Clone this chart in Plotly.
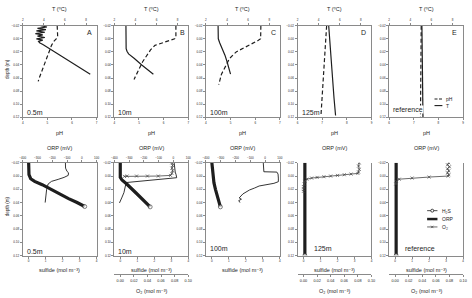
import plotly.graph_objects as go

# ---------------- data ----------------
panel_letters = ["A", "B", "C", "D", "E"]
site_labels = ["0.5m", "10m", "100m", "125m", "reference"]
depth_ticks = [-0.02, 0.0, 0.02, 0.04, 0.06, 0.08, 0.10, 0.12]
T_ticks = [2, 4, 6, 8]
pH_ticks_shallow = [4, 5, 6, 7]
pH_ticks_deep = [6, 7, 8, 9]
ORP_ticks = [-400, -300, -200, -100, 0, 100]
sulfide_ticks = [0, 1, 2, 3, 4]
O2_ticks = [0.0, 0.02, 0.04, 0.06, 0.08, 0.10]

# top row: temperature (solid) and pH (dashed)
A_T_depth = [-0.02, -0.018, -0.016, -0.014, -0.012, -0.010, -0.008, -0.006, -0.004, -0.002,
             0.000, 0.002, 0.004, 0.006, 0.009, 0.015, 0.025, 0.035, 0.045, 0.054]
A_T_val = [3.7, 4.3, 3.4, 4.2, 3.3, 4.1, 3.2, 3.9, 3.4, 4.1,
           3.3, 3.9, 3.5, 3.6, 3.95, 4.55, 5.55, 6.5, 7.5, 8.4]
A_pH_depth = [-0.02, -0.01, -0.004, 0.0, 0.004, 0.01, 0.02, 0.03, 0.04, 0.05, 0.06, 0.065]
A_pH_val = [5.4, 5.42, 5.42, 5.36, 5.26, 5.17, 5.07, 4.95, 4.84, 4.75, 4.67, 4.63]

B_T_depth = [-0.02, 0.0, 0.015, 0.019, 0.023, 0.03, 0.04, 0.054]
B_T_val = [3.1, 3.1, 3.12, 3.2, 3.35, 3.9, 4.6, 5.7]
B_pH_depth = [-0.02, -0.01, -0.002, 0.0, 0.005, 0.01, 0.017, 0.025, 0.035, 0.045, 0.053, 0.062]
B_pH_val = [6.5, 6.5, 6.5, 6.45, 6.0, 5.65, 5.47, 5.32, 5.15, 5.02, 4.9, 4.8]

C_T_depth = [-0.02, -0.01, 0.0, 0.006, 0.012, 0.018, 0.025, 0.035, 0.045, 0.054]
C_T_val = [3.15, 3.15, 3.17, 3.3, 3.47, 3.65, 3.8, 4.0, 4.15, 4.33]
C_pH_depth = [-0.02, -0.01, 0.0, 0.003, 0.01, 0.015, 0.02, 0.03, 0.041, 0.054, 0.07]
C_pH_val = [6.23, 6.23, 6.22, 6.1, 5.76, 5.5, 5.23, 4.96, 4.8, 4.63, 4.52]

D_T_depth = [-0.02, 0.0, 0.03, 0.06, 0.09, 0.117]
D_T_val = [4.95, 5.03, 5.16, 5.3, 5.45, 5.6]
D_pH_depth = [-0.02, 0.0, 0.03, 0.06, 0.09, 0.117]
D_pH_val = [7.18, 7.15, 7.09, 7.04, 6.99, 6.95]

E_T_depth = [-0.02, 0.02, 0.06, 0.10, 0.12]
E_T_val = [5.1, 5.12, 5.14, 5.17, 5.2]
E_pH_depth = [-0.02, 0.02, 0.06, 0.10, 0.12]
E_pH_val = [7.3, 7.3, 7.29, 7.28, 7.27]

# bottom row: H2S (sulfide), ORP, O2
A_H2S_depth = [-0.02, -0.01, -0.002, 0.004, 0.008, 0.013, 0.02, 0.027, 0.034, 0.04, 0.046]
A_H2S_val = [0.0, 0.0, 0.02, 0.12, 0.35, 0.8, 1.3, 1.85, 2.35, 2.85, 3.3]
A_ORP_depth = [-0.02, -0.012, -0.007, -0.005, -0.001, 0.002, 0.005, 0.008, 0.012, 0.02, 0.03, 0.04]
A_ORP_val = [-111, -110, -100, -90, -92, -120, -160, -205, -228, -238, -243, -248]

B_H2S_depth = [-0.02, -0.01, 0.002, 0.006, 0.012, 0.0256, 0.036, 0.0465]
B_H2S_val = [0.0, 0.0, 0.0, 0.1, 0.38, 0.93, 1.35, 1.76]
B_ORP_depth = [-0.02, -0.012, -0.006, -0.002, 0.0025, 0.0098, 0.017, 0.025, 0.033, 0.0405]
B_ORP_val = [5, 8, 12, 18, 22, -320, -327, -335, -350, -365]
B_O2_depth = [-0.02, -0.016, -0.012, -0.008, -0.004, -0.001, 0.0, 0.0, 0.0, 0.0, 0.0005]
B_O2_val = [0.076, 0.077, 0.076, 0.077, 0.076, 0.074, 0.056, 0.040, 0.024, 0.010, 0.006]

C_H2S_depth = [-0.02, -0.01, 0.0, 0.01, 0.02, 0.03, 0.038, 0.0465]
C_H2S_val = [0.0, 0.03, 0.07, 0.12, 0.21, 0.31, 0.4, 0.5]
C_ORP_depth = [-0.02, -0.012, -0.008, -0.0065, -0.006, -0.003, 0.003, 0.0085, 0.011, 0.015,
               0.018, 0.021, 0.027, 0.03, 0.033, 0.035, 0.037, 0.04]
C_ORP_val = [-12, -12, -10, -8, 80, 88, 90, 90, 60, -40,
             -70, -105, -150, -165, -175, -160, -178, -170]

D_H2S_depth = [-0.02, 0.0, 0.02, 0.04, 0.06, 0.08, 0.10, 0.12]
D_H2S_val = [0.08, 0.08, 0.08, 0.08, 0.08, 0.08, 0.08, 0.08]
D_O2_depth = [-0.02, -0.015, -0.01, -0.006, -0.004, -0.003, -0.002, -0.001, 0.0, 0.001, 0.002,
              0.003, 0.0047, 0.008, 0.012, 0.016, 0.02, 0.023]
D_O2_val = [0.082, 0.081, 0.082, 0.081, 0.080, 0.070, 0.060, 0.050, 0.040, 0.030, 0.020,
            0.012, 0.005, 0.002, 0.001, 0.0, 0.0, 0.0]

E_H2S_depth = [-0.02, 0.0, 0.02, 0.04, 0.06, 0.08, 0.10, 0.12]
E_H2S_val = [0.06, 0.06, 0.06, 0.06, 0.06, 0.06, 0.06, 0.06]
E_O2_depth = [-0.02, -0.017, -0.014, -0.011, -0.008, -0.005, -0.002, 0.0, 0.0015, 0.003, 0.0047, 0.008, 0.012]
E_O2_val = [0.079, 0.077, 0.080, 0.077, 0.079, 0.077, 0.079, 0.078, 0.050, 0.025, 0.006, 0.002, 0.001]

top_T = [(A_T_depth, A_T_val), (B_T_depth, B_T_val), (C_T_depth, C_T_val),
         (D_T_depth, D_T_val), (E_T_depth, E_T_val)]
top_pH = [(A_pH_depth, A_pH_val), (B_pH_depth, B_pH_val), (C_pH_depth, C_pH_val),
          (D_pH_depth, D_pH_val), (E_pH_depth, E_pH_val)]
bot_H2S = [(A_H2S_depth, A_H2S_val), (B_H2S_depth, B_H2S_val), (C_H2S_depth, C_H2S_val),
           (D_H2S_depth, D_H2S_val), (E_H2S_depth, E_H2S_val)]
bot_ORP = [(A_ORP_depth, A_ORP_val), (B_ORP_depth, B_ORP_val), (C_ORP_depth, C_ORP_val), None, None]
bot_O2 = [None, (B_O2_depth, B_O2_val), None, (D_O2_depth, D_O2_val), (E_O2_depth, E_O2_val)]

# ---------------- layout helpers ----------------
W, H = 472, 298
GRAY = "#8a8a8a"
INK = "#1e1e1e"
FONT = "Liberation Sans, Arial, DejaVu Sans, sans-serif"


def fx(p):
    return p / W


def fy(p):
    return 1 - p / H


lefts = [20, 113, 206, 299, 392]
PW = 75
top_dom = [fy(117), fy(24)]
bot_dom = [fy(257), fy(163)]

layout = {}
traces = []
annotations = []
shapes = []
cnt = {"x": 0, "y": 0}


def new_id(kind):
    cnt[kind] += 1
    n = cnt[kind]
    return (kind if n == 1 else f"{kind}{n}"), (f"{kind}axis" if n == 1 else f"{kind}axis{n}")


def axis_common(size=3):
    return dict(showline=True, linecolor=GRAY, linewidth=1, ticks="outside", ticklen=2,
                tickwidth=0.7, tickcolor=GRAY, showgrid=False, zeroline=False,
                tickfont=dict(size=size, color=INK, family=FONT))


def ann(text, x, y, size=5.5, xanchor="center", angle=0, bg=None):
    d = dict(text=text, x=fx(x), y=fy(y), xref="paper", yref="paper", showarrow=False,
             xanchor=xanchor, yanchor="middle", textangle=angle,
             font=dict(size=size, color=INK, family=FONT))
    if bg:
        d["bgcolor"] = bg
        d["borderpad"] = 0
    annotations.append(d)


def build_panel(i, row):
    x0 = lefts[i]
    dx = [fx(x0), fx(x0 + PW)]
    dy = top_dom if row == 0 else bot_dom
    yid, ykey = new_id("y")
    xb, xbkey = new_id("x")
    xt, xtkey = new_id("x")
    layout[ykey] = dict(axis_common(), domain=dy, range=[0.12, -0.02], tickvals=depth_ticks,
                        tickformat=".2f", mirror=True, anchor=xb)
    if row == 0:
        ph_range = [4, 7] if i < 3 else [6, 9]
        ph_ticks = pH_ticks_shallow if i < 3 else pH_ticks_deep
        layout[xbkey] = dict(axis_common(), domain=dx, range=ph_range, tickvals=ph_ticks, anchor=yid)
        layout[xtkey] = dict(axis_common(), domain=dx, range=[2, 9], tickvals=T_ticks,
                             overlaying=xb, side="top", anchor=yid)
        dT, vT = top_T[i]
        dP, vP = top_pH[i]
        traces.append(go.Scatter(x=vP, y=dP, xaxis=xb, yaxis=yid, mode="lines",
                                 line=dict(color=INK, width=1.2, dash="4px,2.5px"), showlegend=False))
        traces.append(go.Scatter(x=vT, y=dT, xaxis=xt, yaxis=yid, mode="lines",
                                 line=dict(color=INK, width=1.2), showlegend=False))
    else:
        layout[xbkey] = dict(axis_common(), domain=dx, range=[-0.35, 4], tickvals=sulfide_ticks, anchor=yid)
        layout[xtkey] = dict(axis_common(), domain=dx, range=[-400, 100], tickvals=ORP_ticks,
                             overlaying=xb, side="top", anchor=yid)
        o2id = None
        if bot_O2[i] is not None:
            o2id, o2key = new_id("x")
            layout[o2key] = dict(axis_common(size=3.8), domain=dx, range=[-0.35 / 40, 0.1],
                                 tickvals=O2_ticks, tickformat=".2f", overlaying=xb, side="bottom",
                                 anchor="free", position=fy(275.7))
        if bot_ORP[i] is not None:
            dO, vO = bot_ORP[i]
            traces.append(go.Scatter(x=vO, y=dO, xaxis=xt, yaxis=yid, mode="lines",
                                     line=dict(color=INK, width=0.9), showlegend=False))
        if o2id is not None:
            d2, v2 = bot_O2[i]
            traces.append(go.Scatter(x=v2, y=d2, xaxis=o2id, yaxis=yid, mode="lines+markers",
                                     line=dict(color="#444444", width=0.8),
                                     marker=dict(symbol="x-thin-open", size=3,
                                                 line=dict(color="#444444", width=0.7)),
                                     showlegend=False))
        dS, vS = bot_H2S[i]
        sizes = [0] * (len(vS) - 1) + [4]
        traces.append(go.Scatter(x=vS, y=dS, xaxis=xb, yaxis=yid, mode="lines+markers",
                                 line=dict(color=INK, width=3.2),
                                 marker=dict(symbol="circle", size=sizes, color="white",
                                             line=dict(color=INK, width=0.8)),
                                 showlegend=False))


for r in range(2):
    for i in range(5):
        build_panel(i, r)

# ---------------- text ----------------
for i in range(5):
    cx = lefts[i] + PW / 2
    ann("T (⁰C)", cx, 7.5)
    ann("pH", cx, 133)
    ann("ORP (mV)", cx, 147.5)
    ann("sulfide (mol m⁻³)", cx, 272)
    if bot_O2[i] is not None:
        ann("O₂ (mol m⁻³)", cx, 293)

letter_x = [88.3, 181.7, 274.3, 365.7, 458.3]
for i in range(5):
    ann(panel_letters[i], letter_x[i], 31, size=7)

top_lab_x = [22.5, 115, 208, 301.5, 394.5]
top_lab_y = [112.5, 112.5, 112.5, 112.5, 108.5]
bot_lab_x = [22.5, 115, 208, 314, 406.5]
bot_lab_y = [252.5, 252.5, 250, 250, 250]
for i in range(5):
    ann(site_labels[i], top_lab_x[i], top_lab_y[i], size=7, xanchor="left",
        bg="white" if i == 4 else None)
    ann(site_labels[i], bot_lab_x[i], bot_lab_y[i], size=7, xanchor="left")

ann("depth (m)", 4, 68, size=4.5, angle=-90)
ann("depth (m)", 4, 207, size=4.5, angle=-90)


# ---------------- manual legends ----------------
def hline(x0, x1, y, width=1, dash=None, color=INK):
    ln = dict(color=color, width=width)
    if dash:
        ln["dash"] = dash
    shapes.append(dict(type="line", xref="paper", yref="paper", x0=fx(x0), x1=fx(x1),
                       y0=fy(y), y1=fy(y), line=ln))


hline(438, 446, 98.3, width=1.1, dash="3px,1.5px")
ann("pH", 448, 98.3, size=5, xanchor="left")
hline(438, 446, 105, width=1.1)
ann("T", 448, 105, size=5, xanchor="left")

hline(430.5, 441, 211.5, width=0.8)
shapes.append(dict(type="circle", xref="paper", yref="paper", x0=fx(434.2), x1=fx(437.2),
                   y0=fy(213), y1=fy(210), fillcolor="white", line=dict(color=INK, width=0.8)))
ann("H₂S", 444, 211.5, size=5, xanchor="left")
hline(430.5, 441, 220, width=2.5)
ann("ORP", 444, 220, size=5, xanchor="left")
hline(430.5, 441, 228, width=0.8, color="#444444")
shapes.append(dict(type="line", xref="paper", yref="paper", x0=fx(434.5), x1=fx(436.9),
                   y0=fy(229.2), y1=fy(226.8), line=dict(color="#444444", width=0.7)))
shapes.append(dict(type="line", xref="paper", yref="paper", x0=fx(434.5), x1=fx(436.9),
                   y0=fy(226.8), y1=fy(229.2), line=dict(color="#444444", width=0.7)))
ann("O₂", 444, 228, size=5, xanchor="left")

fig = go.Figure(data=traces)
fig.update_layout(**layout)
fig.update_layout(width=W, height=H, margin=dict(l=0, r=0, t=0, b=0),
                  paper_bgcolor="white", plot_bgcolor="white", showlegend=False,
                  annotations=annotations, shapes=shapes,
                  font=dict(family=FONT, color=INK))
fig.write_html("out.html")
